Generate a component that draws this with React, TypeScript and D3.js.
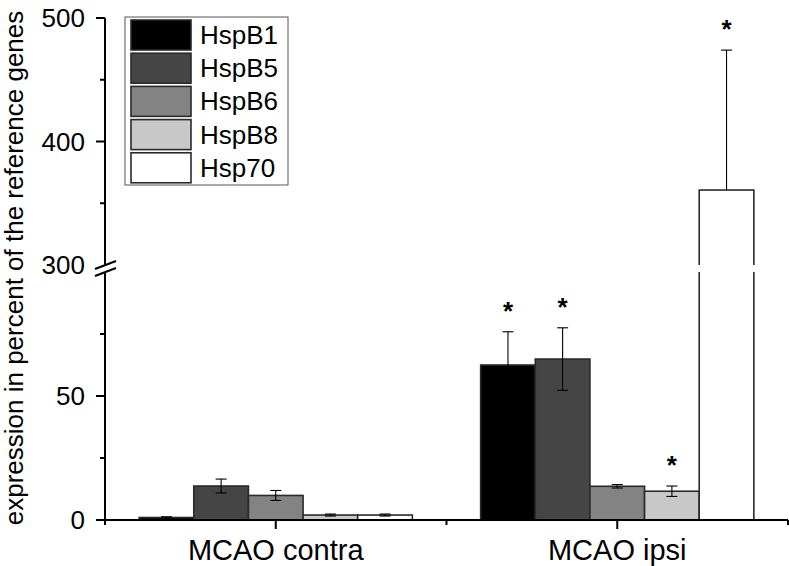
import React from "react";
import * as d3 from "d3";

const groups = ["MCAO contra", "MCAO ipsi"];
const genes = ["HspB1", "HspB5", "HspB6", "HspB8", "Hsp70"];
const colors = ["#000000", "#454545", "#838383", "#c8c8c8", "#ffffff"];
const contraMean = [1.0, 13.7, 9.9, 2.0, 2.0];
const contraErr = [0.3, 2.8, 2.0, 0.4, 0.4];
const ipsiMean = [62.5, 64.9, 13.6, 11.6, 360.7];
const ipsiErr = [13.4, 12.6, 0.7, 2.1, 113.3];
const ipsiSig = [true, true, false, true, true];
const contraSig = [false, false, false, false, false];
const lowerTicks = [0, 50];
const lowerMinor = [25, 75];
const upperTicks = [300, 400, 500];
const upperMinor = [350, 450];

const W = 789;
const H = 566;
const left = 105;
const right = 788;
const base = 520;
const breakLow = 272;
const breakHigh = 265;
const top = 18;

const x0 = d3.scaleBand<string>().domain(groups).range([left, right]).paddingInner(0).paddingOuter(0);
const x1 = d3
  .scaleBand<string>()
  .domain(genes)
  .range([0, x0.bandwidth() * 0.8]);
const yLow = d3.scaleLinear().domain([0, 100]).range([base, breakLow]);
const yHigh = d3.scaleLinear().domain([300, 500]).range([breakHigh, top]);

function yMap(v: number): number | null {
  if (v <= 100) return yLow(v);
  if (v >= 300) return yHigh(v);
  return null;
}

const series = [
  { group: groups[0], mean: contraMean, err: contraErr, sig: contraSig },
  { group: groups[1], mean: ipsiMean, err: ipsiErr, sig: ipsiSig },
];

export default function App() {
  const font = "'Liberation Sans', Arial, sans-serif";
  return (
    <svg
      width={W}
      height={H}
      style={{ position: "absolute", left: 0, top: 0, background: "#fff" }}
      fontFamily={font}
    >
      {/* bars */}
      {series.map((s) => {
        const gx = (x0(s.group) as number) + x0.bandwidth() * 0.1;
        return (
          <g key={s.group}>
            {genes.map((g, i) => {
              const bx = gx + (x1(g) as number);
              const bw = x1.bandwidth();
              const v = s.mean[i];
              const yt = yMap(v) as number;
              const hasBreak = v > 100;
              return (
                <g key={g}>
                  <rect
                    x={bx}
                    y={yt}
                    width={bw}
                    height={base - yt}
                    fill={colors[i]}
                    stroke="#2a2a2a"
                    strokeWidth={1.6}
                  />
                  {hasBreak && (
                    <rect x={bx - 2} y={breakHigh} width={bw + 4} height={breakLow - breakHigh} fill="#fff" />
                  )}
                </g>
              );
            })}
          </g>
        );
      })}
      {/* error bars and stars */}
      {series.map((s) => {
        const gx = (x0(s.group) as number) + x0.bandwidth() * 0.1;
        return (
          <g key={s.group + "e"}>
            {genes.map((g, i) => {
              const cx = gx + (x1(g) as number) + x1.bandwidth() / 2;
              const v = s.mean[i];
              const e = s.err[i];
              const yTop = yMap(v + e) as number;
              const yMid = yMap(v) as number;
              const yBotRaw = yMap(v - e);
              const yBot = yBotRaw === null ? yMid : yBotRaw;
              const cap = 5.5;
              return (
                <g key={g} stroke="#000" strokeWidth={1.1}>
                  <line x1={cx} x2={cx} y1={yTop} y2={yBot} />
                  <line x1={cx - cap} x2={cx + cap} y1={yTop} y2={yTop} />
                  {yBotRaw !== null && <line x1={cx - cap} x2={cx + cap} y1={yBot} y2={yBot} />}
                  {s.sig[i] && (
                    <text
                      x={cx}
                      y={yTop - 12}
                      textAnchor="middle"
                      fontSize={26}
                      fontWeight="bold"
                      stroke="none"
                      fill="#000"
                    >
                      *
                    </text>
                  )}
                </g>
              );
            })}
          </g>
        );
      })}
      {/* x axis */}
      <line x1={left} x2={right} y1={base} y2={base} stroke="#000" strokeWidth={2} />
      {groups.map((g) => {
        const cx = (x0(g) as number) + x0.bandwidth() / 2;
        return (
          <g key={g}>
            <line x1={cx} x2={cx} y1={base} y2={base + 9} stroke="#000" strokeWidth={2} />
            <text x={cx} y={560} textAnchor="middle" fontSize={29} fill="#000">
              {g}
            </text>
          </g>
        );
      })}
      {[...groups.map((g) => x0(g) as number), right].map((bx, i) => (
        <line key={i} x1={bx} x2={bx} y1={base} y2={base + 5} stroke="#000" strokeWidth={2} />
      ))}
      {/* y axis */}
      <line x1={left} x2={left} y1={base + 1} y2={breakLow} stroke="#000" strokeWidth={2} />
      <line x1={left} x2={left} y1={breakHigh} y2={top} stroke="#000" strokeWidth={2} />
      <line x1={left - 10} x2={left + 11} y1={breakHigh + 4} y2={breakHigh - 4} stroke="#000" strokeWidth={2} />
      <line x1={left - 10} x2={left + 11} y1={breakLow + 4} y2={breakLow - 4} stroke="#000" strokeWidth={2} />
      {lowerTicks.map((t) => (
        <g key={"l" + t}>
          <line x1={left - 9} x2={left} y1={yLow(t)} y2={yLow(t)} stroke="#000" strokeWidth={2} />
          <text x={left - 20} y={yLow(t)} dy="0.36em" textAnchor="end" fontSize={26} fill="#000">
            {t}
          </text>
        </g>
      ))}
      {lowerMinor.map((t) => (
        <line key={"lm" + t} x1={left - 5} x2={left} y1={yLow(t)} y2={yLow(t)} stroke="#000" strokeWidth={2} />
      ))}
      {upperTicks.map((t) => (
        <g key={"u" + t}>
          {t !== 300 && <line x1={left - 9} x2={left} y1={yHigh(t)} y2={yHigh(t)} stroke="#000" strokeWidth={2} />}
          <text x={left - 20} y={yHigh(t)} dy="0.36em" textAnchor="end" fontSize={26} fill="#000">
            {t}
          </text>
        </g>
      ))}
      {upperMinor.map((t) => (
        <line key={"um" + t} x1={left - 5} x2={left} y1={yHigh(t)} y2={yHigh(t)} stroke="#000" strokeWidth={2} />
      ))}
      <text
        transform={`translate(23,268) rotate(-90)`}
        textAnchor="middle"
        fontSize={26}
        fill="#000"
      >
        expression in percent of the reference genes
      </text>
      {/* legend */}
      <rect x={125} y={17} width={163} height={168} fill="#fff" stroke="#555" strokeWidth={1} />
      {genes.map((g, i) => {
        const yy = 20 + i * 33.2;
        return (
          <g key={g}>
            <rect x={131} y={yy} width={60} height={30} fill={colors[i]} stroke="#2a2a2a" strokeWidth={1.6} />
            <text x={200} y={yy + 24} fontSize={26} fill="#000">
              {g}
            </text>
          </g>
        );
      })}
    </svg>
  );
}
